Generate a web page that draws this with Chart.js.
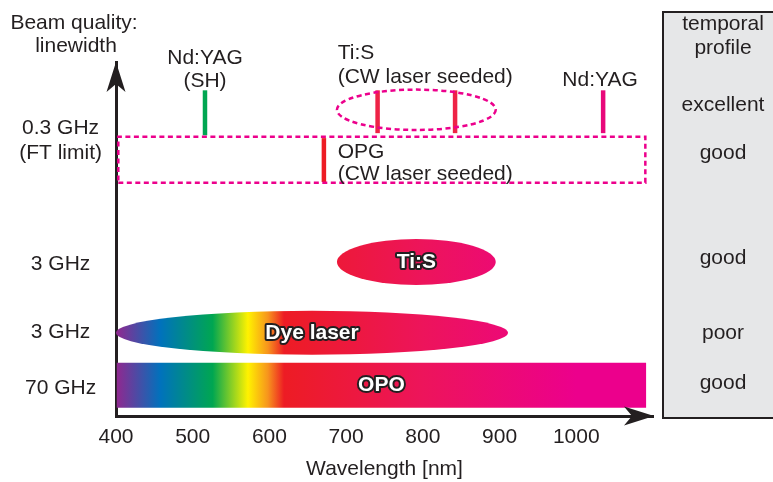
<!DOCTYPE html>
<html>
<head>
<meta charset="utf-8">
<script src="https://cdn.jsdelivr.net/npm/chart.js@4"></script>
<style>
  html, body { margin: 0; padding: 0; background: #fff; }
  #wrap { width: 773px; height: 482px; }
</style>
</head>
<body>
<div id="wrap"><canvas id="chart"></canvas></div>
<script>
// Wavelength axis [nm]
const xTicks = [400, 500, 600, 700, 800, 900, 1000]

// Beam quality rows (level on the vertical axis, 0 = bottom, 10 = arrow tip)
const yTickLevels = [0.79, 2.37, 4.29, 7.77]
const yTickLabels = ["70 GHz", "3 GHz", "3 GHz", ["0.3 GHz", "(FT limit)"]]

// Broadband sources
const opoRange = [401, 1091]
const opoLevel = 0.87
const ovalNames = ["Ti:S", "Dye laser"]
const ovalStart = [688, 400]
const ovalEnd = [895, 911]
const ovalLevel = [4.35, 2.35]
const ovalHalfHeight = [0.65, 0.62]

// Single line sources
const lineNames = ["Nd:YAG (SH)", "Ti:S a", "Ti:S b", "Nd:YAG", "OPG"]
const lineNm = [516, 741, 842, 1035, 671]
const lineLow = [7.93, 7.99, 7.99, 7.99, 6.61]
const lineHigh = [9.2, 9.2, 9.2, 9.2, 7.85]

// Dashed groups
const opgBoxNm = [403, 1090]
const opgBoxLevel = [6.59, 7.89]
const tisGroupNm = [688, 895]
const tisGroupLevel = [8.08, 9.22]

// Text notes
const noteText = ["Nd:YAG", "(SH)", "Ti:S", "(CW laser seeded)", "Nd:YAG", "OPG", "(CW laser seeded)"]
const noteNm = [516, 516, 689, 689, 1031, 689, 689]
const noteLevel = [10.11, 9.46, 10.25, 9.58, 9.49, 7.46, 6.84]

// Temporal profile column
const profileLabels = ["excellent", "good", "good", "poor", "good"]
const profileLevels = [8.79, 7.43, 4.46, 2.34, 0.93]

// Spectrum colours along the wavelength axis
const spectrumNm = [400, 458, 526, 572, 598, 619, 800, 1000, 1100]
const spectrumColors = ["#92278f", "#0072bc", "#00a651", "#fff200", "#f7941d", "#ed1c24", "#ed145b", "#ec008c", "#ec008c"]

// styles
const ink = "#231f20"
const dashPink = "#ec008c"
const lineColors = ["#00a651", "#ee2346", "#ee2346", "#e8087a", "#ed1c24"]
const noteAlign = ["center", "center", "left", "left", "center", "left", "left"]
const font = "'Liberation Sans', Arial, sans-serif"

Chart.defaults.font.family = font
Chart.defaults.font.size = 21
Chart.defaults.color = ink

function spectrum(chart) {
  const x = chart.scales.x
  const g = chart.ctx.createLinearGradient(x.getPixelForValue(x.min), 0, x.getPixelForValue(x.max), 0)
  spectrumNm.forEach((nm, i) => g.addColorStop((nm - x.min) / (x.max - x.min), spectrumColors[i]))
  return g
}

function arrowHead(ctx, tx, ty, dx, dy) {
  // dx, dy: unit direction of the arrow
  const len = 30, half = 9.5, notch = 22
  const px = -dy, py = dx
  ctx.beginPath()
  ctx.moveTo(tx, ty)
  ctx.lineTo(tx - dx * len + px * half, ty - dy * len + py * half)
  ctx.lineTo(tx - dx * notch, ty - dy * notch)
  ctx.lineTo(tx - dx * len - px * half, ty - dy * len - py * half)
  ctx.closePath()
  ctx.fill()
}

function outlinedText(ctx, text, cx, cy) {
  ctx.font = "bold 21px " + font
  ctx.textAlign = "center"
  ctx.textBaseline = "middle"
  ctx.lineJoin = "round"
  ctx.lineWidth = 4
  ctx.strokeStyle = ink
  ctx.strokeText(text, cx, cy)
  ctx.fillStyle = "#fff"
  ctx.fillText(text, cx, cy)
}

const drawing = {
  id: "drawing",
  beforeDatasetsDraw(chart) {
    const { ctx, scales: { x, y } } = chart
    ctx.save()
    ctx.fillStyle = spectrum(chart)
    ovalNames.forEach((name, i) => {
      const x0 = x.getPixelForValue(ovalStart[i])
      const x1 = x.getPixelForValue(ovalEnd[i])
      const yc = y.getPixelForValue(ovalLevel[i])
      const ry = Math.abs(y.getPixelForValue(ovalLevel[i] + ovalHalfHeight[i]) - yc)
      ctx.beginPath()
      ctx.ellipse((x0 + x1) / 2, yc, (x1 - x0) / 2, ry, 0, 0, Math.PI * 2)
      ctx.fill()
    })
    ctx.restore()
  },
  afterDatasetsDraw(chart) {
    const { ctx, scales: { x, y } } = chart
    ctx.save()

    // dashed ring round the Ti:S lines
    const ex0 = x.getPixelForValue(tisGroupNm[0]), ex1 = x.getPixelForValue(tisGroupNm[1])
    const ey0 = y.getPixelForValue(tisGroupLevel[0]), ey1 = y.getPixelForValue(tisGroupLevel[1])
    ctx.strokeStyle = dashPink
    ctx.lineWidth = 2.5
    ctx.setLineDash([5, 3.5])
    ctx.beginPath()
    ctx.ellipse((ex0 + ex1) / 2, (ey0 + ey1) / 2, (ex1 - ex0) / 2, Math.abs(ey0 - ey1) / 2, 0, 0, Math.PI * 2)
    ctx.stroke()
    ctx.setLineDash([])

    // labels on the broadband shapes
    ovalNames.forEach((name, i) => {
      outlinedText(ctx, name, x.getPixelForValue((ovalStart[i] + ovalEnd[i]) / 2), y.getPixelForValue(ovalLevel[i]))
    })
    outlinedText(ctx, "OPO", x.getPixelForValue((opoRange[0] + opoRange[1]) / 2), y.getPixelForValue(opoLevel))

    // notes
    ctx.font = "21px " + font
    ctx.fillStyle = ink
    ctx.textBaseline = "middle"
    noteText.forEach((t, i) => {
      ctx.textAlign = noteAlign[i]
      ctx.fillText(t, x.getPixelForValue(noteNm[i]), y.getPixelForValue(noteLevel[i]))
    })
    ctx.restore()
  },
  afterDraw(chart) {
    const { ctx, chartArea: a, scales: { y } } = chart
    ctx.save()
    ctx.fillStyle = ink
    arrowHead(ctx, a.left, a.top, 0, -1)
    arrowHead(ctx, a.right + 1, a.bottom, 1, 0)

    // vertical axis title
    ctx.font = "21px " + font
    ctx.textAlign = "center"
    ctx.textBaseline = "middle"
    ctx.fillText("Beam quality:", 74, 23)
    ctx.fillText("linewidth", 76, 46)

    // temporal profile panel
    const px = a.right + 10
    ctx.fillStyle = "#e6e7e8"
    ctx.fillRect(px, 12, 140, 406)
    ctx.strokeStyle = ink
    ctx.lineWidth = 2
    ctx.strokeRect(px, 12, 140, 406)
    ctx.fillStyle = ink
    const cx = px + 60
    ctx.fillText("temporal", cx, 24)
    ctx.fillText("profile", cx, 48)
    profileLabels.forEach((t, i) => ctx.fillText(t, cx, y.getPixelForValue(profileLevels[i])))
    ctx.restore()
  }
}

const datasets = [
  {
    type: "bar",
    label: "OPO",
    indexAxis: "y",
    data: [{ x: opoRange, y: opoLevel }],
    backgroundColor: (c) => (c.chart.chartArea ? spectrum(c.chart) : spectrumColors[5]),
    barThickness: 45,
    borderWidth: 0,
    inflateAmount: 0
  },
  {
    label: "OPG box",
    showLine: true,
    data: [
      { x: opgBoxNm[0], y: opgBoxLevel[0] },
      { x: opgBoxNm[1], y: opgBoxLevel[0] },
      { x: opgBoxNm[1], y: opgBoxLevel[1] },
      { x: opgBoxNm[0], y: opgBoxLevel[1] },
      { x: opgBoxNm[0], y: opgBoxLevel[0] }
    ],
    borderColor: dashPink,
    borderWidth: 2.5,
    borderDash: [5, 3.5],
    pointRadius: 0,
    fill: false
  }
]

lineNames.forEach((name, i) => {
  datasets.push({
    label: name,
    showLine: true,
    data: [{ x: lineNm[i], y: lineLow[i] }, { x: lineNm[i], y: lineHigh[i] }],
    borderColor: lineColors[i],
    borderWidth: 4.5,
    pointRadius: 0
  })
})

new Chart(document.getElementById("chart"), {
  type: "scatter",
  data: { datasets },
  options: {
    responsive: true,
    maintainAspectRatio: false,
    animation: false,
    events: [],
    layout: { padding: { top: 62, right: 120, bottom: 0, left: 0 } },
    plugins: { legend: { display: false }, tooltip: { enabled: false } },
    scales: {
      x: {
        type: "linear",
        min: 400,
        max: 1100,
        offset: false,
        grid: { display: false, drawTicks: false, offset: false },
        border: { display: true, width: 3, color: ink },
        afterBuildTicks: (s) => { s.ticks = xTicks.map((v) => ({ value: v })) },
        afterFit: (s) => { s.height = 66 },
        ticks: { padding: 9, maxRotation: 0, autoSkip: false, callback: (v) => String(v) },
        title: { display: true, text: "Wavelength [nm]", padding: { top: 0, bottom: 0 } }
      },
      y: {
        type: "linear",
        min: 0,
        max: 10,
        offset: false,
        grid: { display: false, drawTicks: false, offset: false },
        border: { display: true, width: 3, color: ink },
        afterBuildTicks: (s) => { s.ticks = yTickLevels.map((v) => ({ value: v })) },
        afterFit: (s) => { s.width = 116 },
        ticks: { padding: 14, crossAlign: "center", autoSkip: false, callback: (v, i) => yTickLabels[i] }
      }
    }
  },
  plugins: [drawing]
})
</script>
</body>
</html>
